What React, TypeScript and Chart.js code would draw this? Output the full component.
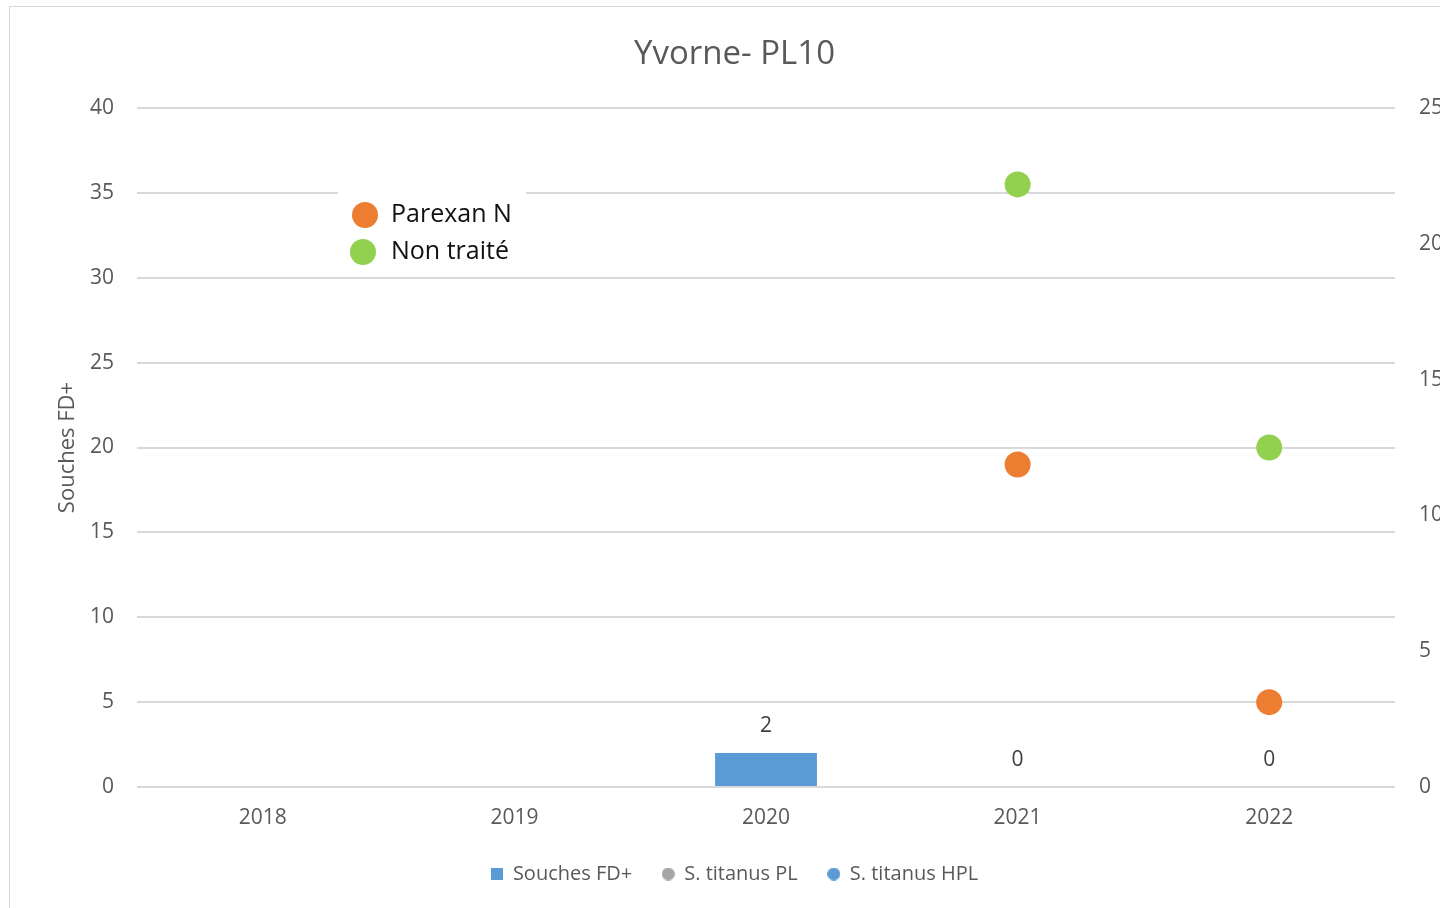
import React, { useEffect, useRef } from "react";
import { Chart, registerables } from "chart.js";

Chart.register(...registerables);

// ---- Data ----
const years = ["2018", "2019", "2020", "2021", "2022"];
const souchesFD: (number | null)[] = [null, null, 2, 0, 0];
const parexanN: (number | null)[] = [null, null, null, 19, 5];
const nonTraite: (number | null)[] = [null, null, null, 35.5, 20];
const leftAxis = { min: 0, max: 40, step: 5 };
const rightAxis = { min: 0, max: 25, step: 5 };
const chartTitle = "Yvorne- PL10";
const yAxisTitle = "Souches FD+";
const bottomLegendLabels = ["Souches FD+", "S. titanus PL", "S. titanus HPL"];
const insetLegendLabels = ["Parexan N", "Non traité"];

// ---- Styles ----
const BLUE = "#5b9bd5";
const ORANGE = "#ed7d31";
const GREEN = "#92d050";
const GRAY = "#a5a5a5";
const TEXT = "#595959";
const GRID = "#d9d9d9";
const FONT = "'Open Sans', sans-serif";

const W = 1449;
const H = 887;
const PLOT_RIGHT = 1385;

function makeMarker(shape: "rect" | "circle", color: string, size: number) {
  const c = document.createElement("canvas");
  c.width = size;
  c.height = size;
  const ctx = c.getContext("2d")!;
  ctx.fillStyle = color;
  if (shape === "rect") {
    ctx.fillRect(0, 0, size, size);
  } else {
    ctx.beginPath();
    ctx.arc(size / 2, size / 2, size / 2, 0, Math.PI * 2);
    ctx.fill();
  }
  return c;
}

const barLabelPlugin = {
  id: "barLabels",
  afterDatasetsDraw(chart: any) {
    const meta = chart.getDatasetMeta(0);
    const ctx = chart.ctx;
    ctx.save();
    ctx.font = `21px ${FONT}`;
    ctx.fillStyle = "#404040";
    ctx.textAlign = "center";
    ctx.textBaseline = "middle";
    meta.data.forEach((el: any, i: number) => {
      const v = souchesFD[i];
      if (v === null || v === undefined) return;
      ctx.fillText(String(v), el.x, el.y - 27);
    });
    ctx.restore();
  },
};

const insetLegendPlugin = {
  id: "insetLegend",
  afterDatasetsDraw(chart: any) {
    const { ctx, chartArea } = chart;
    const l = chartArea.left;
    const t = chartArea.top;
    ctx.save();
    ctx.fillStyle = "#ffffff";
    ctx.fillRect(l + 201, t + 70, 188, 92);
    const colors = [ORANGE, GREEN];
    const offsets = [
      { cx: 228, cy: 107 },
      { cx: 226, cy: 144 },
    ];
    ctx.font = `25px ${FONT}`;
    ctx.textAlign = "left";
    ctx.textBaseline = "middle";
    insetLegendLabels.forEach((txt, i) => {
      ctx.fillStyle = colors[i];
      ctx.beginPath();
      ctx.arc(l + offsets[i].cx, t + offsets[i].cy, 13, 0, Math.PI * 2);
      ctx.fill();
      ctx.fillStyle = "#111111";
      ctx.fillText(txt, l + 254, t + offsets[i].cy);
    });
    ctx.restore();
  },
};

export default function App() {
  const canvasRef = useRef<HTMLCanvasElement | null>(null);

  useEffect(() => {
    if (!canvasRef.current) return;
    Chart.defaults.font.family = FONT;
    Chart.defaults.color = TEXT;

    const markers = [
      makeMarker("rect", BLUE, 12),
      makeMarker("circle", GRAY, 13),
      makeMarker("circle", BLUE, 13),
    ];

    const chart = new Chart(canvasRef.current, {
      type: "bar",
      data: {
        labels: years,
        datasets: [
          {
            type: "bar",
            label: bottomLegendLabels[0],
            data: souchesFD,
            backgroundColor: BLUE,
            borderWidth: 0,
            barPercentage: 0.405,
            categoryPercentage: 1,
            yAxisID: "y",
          } as any,
          {
            type: "line",
            label: bottomLegendLabels[1],
            data: parexanN,
            showLine: false,
            pointRadius: 13,
            pointHoverRadius: 13,
            pointBackgroundColor: ORANGE,
            pointBorderWidth: 0,
            borderWidth: 0,
            backgroundColor: ORANGE,
            yAxisID: "y",
          } as any,
          {
            type: "line",
            label: bottomLegendLabels[2],
            data: nonTraite,
            showLine: false,
            pointRadius: 13,
            pointHoverRadius: 13,
            pointBackgroundColor: GREEN,
            pointBorderWidth: 0,
            borderWidth: 0,
            backgroundColor: GREEN,
            yAxisID: "y",
          } as any,
        ],
      },
      options: {
        responsive: false,
        animation: false,
        devicePixelRatio: 1,
        events: [],
        layout: { padding: 0 },
        plugins: {
          tooltip: { enabled: false },
          title: {
            display: true,
            text: chartTitle,
            color: TEXT,
            font: { size: 33, weight: "normal" as any, family: FONT },
            padding: { top: 28, bottom: 33.4 },
          },
          legend: {
            display: true,
            position: "bottom",
            labels: {
              font: { size: 20, family: FONT },
              color: TEXT,
              padding: 30,
              boxWidth: 12,
              boxHeight: 12,
              usePointStyle: true,
              generateLabels: () =>
                bottomLegendLabels.map((text, i) => ({
                  text,
                  pointStyle: markers[i] as any,
                  fillStyle: i === 1 ? GRAY : BLUE,
                  strokeStyle: "transparent",
                  lineWidth: 0,
                  hidden: false,
                  datasetIndex: i,
                  fontColor: TEXT,
                })),
            },
          },
        },
        scales: {
          x: {
            grid: { display: false },
            border: { display: false },
            ticks: { font: { size: 21 }, color: TEXT, padding: 10 },
            afterFit(s: any) {
              s.height = 47;
            },
          },
          y: {
            position: "left",
            min: leftAxis.min,
            max: leftAxis.max,
            ticks: { stepSize: leftAxis.step, font: { size: 21 }, color: TEXT, padding: 23 },
            grid: { color: GRID, lineWidth: 2, drawTicks: false },
            border: { display: false },
            title: {
              display: true,
              text: yAxisTitle,
              color: TEXT,
              font: { size: 22 },
              padding: { top: 45, bottom: 0 },
            },
            afterFit(s: any) {
              s.width = 127;
            },
          },
          y1: {
            position: "right",
            min: rightAxis.min,
            max: rightAxis.max,
            ticks: { stepSize: rightAxis.step, font: { size: 21 }, color: TEXT, padding: 24 },
            grid: { drawOnChartArea: false, drawTicks: false },
            border: { display: false },
            afterFit(s: any) {
              s.width = W - PLOT_RIGHT;
            },
          },
        },
      } as any,
      plugins: [barLabelPlugin, insetLegendPlugin],
    });

    return () => chart.destroy();
  }, []);

  return (
    <div
      style={{
        position: "fixed",
        left: 0,
        top: 0,
        width: 1440,
        height: 908,
        overflow: "hidden",
        background: "#ffffff",
      }}
    >
      <div
        style={{
          position: "absolute",
          left: 9,
          top: 6,
          width: W,
          height: 930,
          border: "1px solid #d9d9d9",
          background: "#ffffff",
        }}
      >
        <canvas ref={canvasRef} width={W} height={H} style={{ display: "block" }} />
      </div>
    </div>
  );
}
